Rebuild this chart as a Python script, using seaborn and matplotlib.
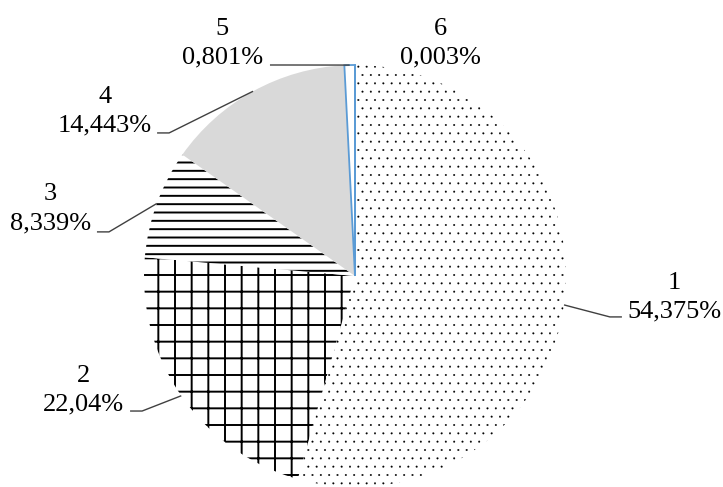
import matplotlib
matplotlib.use("Agg")
import matplotlib.pyplot as plt
import seaborn as sns
import numpy as np

# slice data
categories = ["1", "2", "3", "4", "5", "6"]
shares = [54.375, 22.04, 8.339, 14.443, 0.801, 0.003]
hatches = ["..", "+", "--", None, None, None]
fills = ["white", "white", "white", "#d9d9d9", "white", "white"]

# label block centres and leader starts (axis units, pie radius = 1)
label_pos = [(1.512, -0.10), (-1.289, -0.54), (-1.445, 0.318),
             (-1.185, 0.782), (-0.630, 1.104), (0.403, 1.104)]
leader_start = [(1.265, -0.194), (-1.066, -0.640), (-1.223, 0.209),
                (-0.938, 0.678), (-0.403, 1.0), None]

sns.set_theme(style="white")
plt.rcParams["font.family"] = ["Liberation Serif", "DejaVu Serif"]
plt.rcParams["hatch.linewidth"] = 1.4

fig = plt.figure(figsize=(7.23, 4.87), dpi=100)
ax = fig.add_axes([0, 0, 1, 1])

wedges, _ = ax.pie(shares, startangle=90, counterclock=False, radius=1.0,
                   colors=fills, wedgeprops=dict(linewidth=0))

for w, h, i in zip(wedges, hatches, range(len(wedges))):
    if h is not None:
        w.set_hatch(h)
        w.set_edgecolor("black")
        w.set_linewidth(0)
        if "." in h and hasattr(w, "set_hatch_linewidth"):
            w.set_hatch_linewidth(0.2)
    if i >= 4:
        w.set_edgecolor("#5b9bd5")
        w.set_linewidth(1.3)

for i, w in enumerate(wedges):
    txt = categories[i] + "\n" + str(shares[i]).replace(".", ",") + "%"
    x, y = label_pos[i]
    ax.text(x, y, txt, ha="center", va="center", fontsize=19,
            linespacing=1.4, color="black")
    if leader_start[i] is None:
        continue
    mid = np.deg2rad((w.theta1 + w.theta2) / 2)
    ex, ey = np.cos(mid), np.sin(mid)
    sx, sy = leader_start[i]
    step = 0.057 if sx < 0 else -0.057
    ax.plot([sx, sx + step, ex], [sy, sy, ey], color="#404040", lw=1.0,
            solid_capstyle="butt")

ax.set_xlim(-1.6825, 1.7441)
ax.set_ylim(-1.0, 1.308)
ax.set_aspect("equal")
ax.axis("off")

fig.savefig("out.png", dpi=100, facecolor="white")
